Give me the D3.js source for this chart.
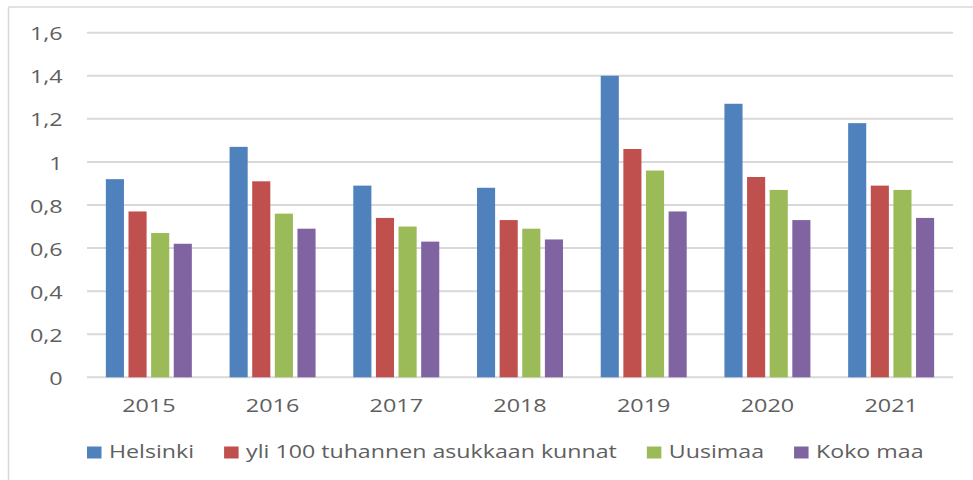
<!DOCTYPE html>
<html>
<head>
<meta charset="utf-8">
<script src="https://cdn.jsdelivr.net/npm/d3@7"></script>
<style>
  html, body { margin: 0; padding: 0; background: #fff; }
  svg { display: block; }
  text { font-family: "Open Sans", sans-serif; fill: #5f5f5f; }
</style>
</head>
<body>
<svg id="chart" width="973" height="480"></svg>
<script>
const years = ["2015", "2016", "2017", "2018", "2019", "2020", "2021"];
const seriesNames = ["Helsinki", "yli 100 tuhannen asukkaan kunnat", "Uusimaa", "Koko maa"];
const helsinki = [0.92, 1.07, 0.89, 0.88, 1.40, 1.27, 1.18];
const yli100 = [0.77, 0.91, 0.74, 0.73, 1.06, 0.93, 0.89];
const uusimaa = [0.67, 0.76, 0.70, 0.69, 0.96, 0.87, 0.87];
const kokoMaa = [0.62, 0.69, 0.63, 0.64, 0.77, 0.73, 0.74];
const yTicks = [0, 0.2, 0.4, 0.6, 0.8, 1.0, 1.2, 1.4, 1.6];
const colors = ["#4F81BD", "#C0504D", "#9BBB59", "#8064A2"];

const seriesValues = [helsinki, yli100, uusimaa, kokoMaa];
const svg = d3.select("#chart");
const W = 973, H = 480;
const plot = { left: 87, right: 953, top: 32.7, bottom: 377.3 };
const SX = 1.23, FS = 19, LSX = 1.22;

// chart frame (left and top edges visible)
svg.append("line").attr("x1", 8.5).attr("x2", 8.5).attr("y1", 7).attr("y2", H)
  .attr("stroke", "#D9D9D9").attr("stroke-width", 1.5);
svg.append("line").attr("x1", 8).attr("x2", W).attr("y1", 7).attr("y2", 7)
  .attr("stroke", "#D9D9D9").attr("stroke-width", 1.5);

const y = d3.scaleLinear().domain([0, 1.6]).range([plot.bottom, plot.top]);
const x0 = d3.scaleBand().domain(years).range([plot.left, plot.right])
  .paddingInner(0.305).paddingOuter(0.1525);
const x1 = d3.scaleBand().domain(d3.range(4)).range([0, x0.bandwidth()])
  .paddingInner(0.2).paddingOuter(0);

// gridlines
svg.append("g").selectAll("line").data(yTicks).join("line")
  .attr("x1", plot.left).attr("x2", plot.right)
  .attr("y1", d => y(d)).attr("y2", d => y(d))
  .attr("stroke", "#D9D9D9").attr("stroke-width", 2);

// y labels
const fmt = d => (d === 0 ? "0" : (Number.isInteger(d) ? String(d) : d.toFixed(1).replace(".", ",")));
svg.append("g").selectAll("text").data(yTicks).join("text")
  .attr("transform", d => `translate(62.7,${y(d)}) scale(${SX},1)`)
  .attr("text-anchor", "end").attr("dominant-baseline", "central")
  .style("font-size", FS + "px")
  .text(d => fmt(d));

// bars
const groups = svg.append("g").selectAll("g").data(years).join("g")
  .attr("transform", d => `translate(${x0(d)},0)`);
groups.selectAll("rect")
  .data((d, i) => seriesValues.map((s, k) => ({ k, v: s[i] })))
  .join("rect")
  .attr("x", d => x1(d.k))
  .attr("width", x1.bandwidth())
  .attr("y", d => y(d.v))
  .attr("height", d => y(0) - y(d.v))
  .attr("fill", d => colors[d.k]);

// x labels
svg.append("g").selectAll("text").data(years).join("text")
  .attr("transform", d => `translate(${x0(d) + x0.bandwidth() / 2},412) scale(${SX},1)`)
  .attr("text-anchor", "middle")
  .style("font-size", FS + "px")
  .text(d => d);

// legend
const legend = svg.append("g");
let lx = 87;
seriesNames.forEach((name, k) => {
  legend.append("rect").attr("x", lx).attr("y", 446.5).attr("width", 14.5).attr("height", 12)
    .attr("fill", colors[k]);
  const t = legend.append("text")
    .attr("transform", `translate(${lx + 22},458) scale(${LSX},1)`)
    .style("font-size", FS + "px")
    .text(name);
  const w = t.node().getComputedTextLength() * LSX;
  lx = lx + 22 + w + 30;
});
</script>
</body>
</html>
